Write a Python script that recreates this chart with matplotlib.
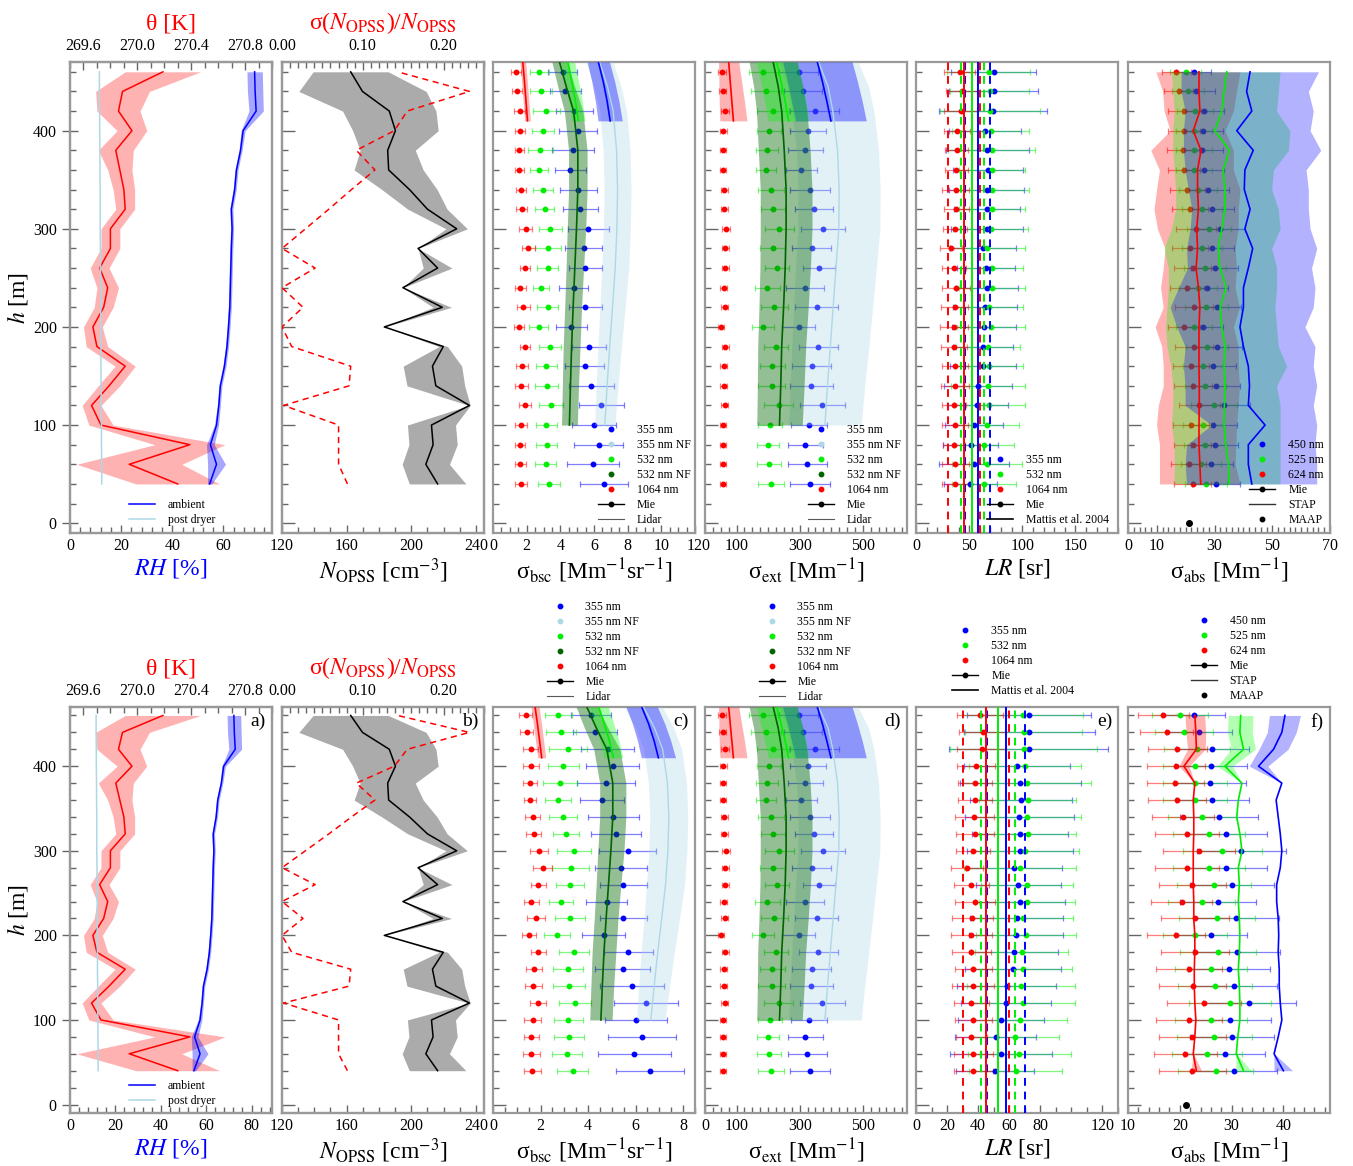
import numpy as np
import matplotlib.pyplot as plt
from matplotlib.lines import Line2D
from matplotlib.ticker import MultipleLocator, FixedLocator, FormatStrFormatter

plt.rcParams['font.family'] = ['Liberation Serif', 'DejaVu Serif']
plt.rcParams['mathtext.fontset'] = 'stix'

# ---------------- data (heights in m) ----------------
h = [40, 60, 80, 100, 120, 140, 160, 180, 200, 220, 240, 260, 280, 300, 320, 340, 360, 380, 400, 420, 440, 460]

# panel a) RH and potential temperature
rh_amb = [54.6, 57.3, 54.9, 57.3, 58.2, 58.8, 60.4, 61.4, 62.0, 62.5, 62.7, 62.9, 63.1, 63.4, 63.1, 64.4, 65.1, 66.7, 67.7, 72.8, 72.4, 72.2]
rh_err = [0.8, 3.5, 1.5, 0.8, 0.6, 0.6, 0.6, 0.6, 0.6, 0.6, 0.6, 0.6, 0.6, 0.6, 0.6, 0.6, 0.6, 0.6, 0.8, 2.8, 3.0, 3.0]
rh_dry = [12.4, 12.4, 12.3, 12.3, 12.2, 12.2, 12.1, 12.1, 12.0, 12.0, 12.0, 11.9, 11.9, 11.8, 11.8, 11.8, 11.7, 11.7, 11.6, 11.6, 11.5, 11.5]
theta = [270.30, 269.94, 270.39, 269.73, 269.66, 269.79, 269.91, 269.70, 269.67, 269.75, 269.78, 269.72, 269.80, 269.80, 269.91, 269.90, 269.87, 269.84, 269.96, 269.86, 269.89, 270.19]
theta_err = [0.31, 0.39, 0.26, 0.09, 0.07, 0.08, 0.075, 0.08, 0.07, 0.07, 0.08, 0.07, 0.07, 0.07, 0.07, 0.08, 0.09, 0.13, 0.11, 0.16, 0.20, 0.28]

# panel b) OPSS number concentration
n_opss = [216.3, 209.0, 213.5, 212.5, 236.0, 215.2, 213.1, 219.8, 183.3, 219.2, 194.8, 216.3, 204.2, 228.1, 210.0, 198.9, 186.0, 185.4, 190.2, 186.4, 169.8, 162.5]
n_rel = [0.081, 0.070, 0.070, 0.070, 0.002, 0.083, 0.085, 0.012, 0.0, 0.026, 0.0, 0.041, 0.0, 0.029, 0.058, 0.086, 0.115, 0.092, 0.139, 0.155, 0.232, 0.143]

# panel c) backscatter, lidar points
bsc355 = [6.61, 5.94, 6.27, 6.02, 6.44, 5.85, 5.46, 5.70, 4.65, 5.49, 4.79, 5.49, 5.39, 5.67, 5.18, 5.07, 4.60, 4.76, 5.04, 4.83, 4.29, 4.13]
bsc355_err = [1.42, 1.54, 1.45, 1.31, 1.35, 1.35, 1.16, 1.02, 0.91, 1.0, 0.86, 1.0, 1.11, 1.2, 1.04, 1.09, 0.93, 1.23, 1.12, 1.11, 0.91, 0.85]
bsc532 = [3.35, 3.13, 3.20, 3.17, 3.45, 3.20, 3.17, 3.41, 2.71, 3.24, 2.85, 3.24, 3.27, 3.41, 3.07, 2.96, 2.72, 2.82, 2.96, 3.17, 2.86, 2.75]
bsc532_err = [0.65, 0.63, 0.63, 0.62, 0.69, 0.69, 0.63, 0.65, 0.55, 0.63, 0.5, 0.61, 0.79, 0.7, 0.55, 0.59, 0.55, 0.73, 0.65, 0.8, 0.64, 0.56]
bsc1064 = [1.65, 1.62, 1.62, 1.67, 1.90, 1.69, 1.72, 1.90, 1.53, 1.80, 1.62, 1.90, 2.09, 1.94, 1.71, 1.67, 1.56, 1.56, 1.60, 1.59, 1.42, 1.37]
bsc1064_err = [0.35, 0.34, 0.31, 0.35, 0.35, 0.36, 0.34, 0.32, 0.29, 0.39, 0.32, 0.32, 0.39, 0.37, 0.33, 0.32, 0.27, 0.28, 0.32, 0.32, 0.28, 0.28]

# panel d) extinction, lidar points
ext355 = [332, 324, 318, 329, 372, 337, 338, 359, 297, 354, 318, 361, 338, 374, 345, 332, 305, 318, 326, 347, 311, 297]
ext355_err = [63, 62, 55, 58, 70, 68, 61, 62, 52, 68, 60, 52, 62, 71, 59, 64, 49, 55, 58, 78, 61, 62]
ext532 = [209, 203, 200, 206, 233, 211, 213, 225, 184, 220, 198, 227, 214, 235, 216, 208, 192, 197, 203, 216, 193, 184]
ext532_err = [40, 39, 35, 38, 46, 43, 40, 39, 35, 42, 39, 38, 41, 46, 39, 41, 32, 35, 38, 51, 48, 46]
ext1064 = [57, 57, 56, 57, 62, 59, 59, 64, 50, 62, 59, 64, 64, 67, 61, 61, 56, 57, 58, 63, 56, 54]
ext1064_err = [10, 11, 10, 11, 12, 11, 11, 11, 10, 12, 11, 11, 11, 12, 11, 11, 10, 10, 11, 13, 12, 12]

# Mie curves for panels c) and d)
h_nf = [100, 140, 180, 220, 260, 300, 340, 380, 420, 445, 470]
bsc_lidar = [6.64, 6.78, 6.93, 7.10, 7.26, 7.36, 7.40, 7.34, 7.14, 6.80, 6.33]
bsc_lidar_err = [0.6, 0.65, 0.7, 0.75, 0.8, 0.8, 0.8, 0.8, 0.8, 0.8, 0.8]
bsc_nf532 = [4.54, 4.60, 4.67, 4.76, 4.86, 4.96, 5.04, 5.04, 4.79, 4.35, 3.95]
bsc_nf532_err = [0.47, 0.48, 0.5, 0.5, 0.52, 0.55, 0.55, 0.55, 0.55, 0.5, 0.45]
ext_lidar = [380, 388, 397, 406, 415, 424, 425, 420, 405, 390, 360]
ext_lidar_err = [115, 118, 122, 125, 128, 130, 130, 130, 130, 128, 125]
ext_nf532 = [236, 240, 243, 249, 254, 257, 257, 251, 243, 232, 216]
ext_nf532_err = [72, 74, 76, 78, 80, 82, 82, 82, 80, 78, 76]

h_top = [410, 430, 450, 470]
bsc_mie355 = [6.96, 6.78, 6.55, 6.26]
bsc_mie355_err = [0.72, 0.7, 0.68, 0.66]
bsc_mie532 = [5.07, 4.90, 4.68, 4.45]
bsc_mie532_err = [0.4, 0.4, 0.4, 0.4]
bsc_mie1064 = [2.05, 1.96, 1.87, 1.77]
bsc_mie1064_err = [0.17, 0.17, 0.17, 0.17]
ext_mie355 = [399, 386, 372, 356]
ext_mie355_err = [112, 112, 111, 110]
ext_mie532 = [265, 254, 241, 227]
ext_mie532_err = [65, 65, 65, 65]
ext_mie1064 = [90, 85, 80, 75]
ext_mie1064_err = [43, 40, 36, 32]

# panel e) lidar ratio
lr355 = [50.9, 54.6, 51.4, 54.6, 57.8, 58.3, 62.6, 63.2, 64.3, 64.9, 66.9, 65.8, 63.2, 66.9, 67.1, 66.5, 67.5, 67.1, 64.9, 72.5, 72.9, 72.9]
lr355_err = [25, 33, 26, 27.6, 29, 32, 31, 28, 30, 30, 29, 27.5, 31, 34, 31, 35, 33, 39, 34, 51, 42, 40]
lr532 = [64.1, 66.5, 63.9, 66.9, 69.0, 67.5, 68.6, 68.0, 70.8, 69.0, 71.4, 71.4, 66.9, 70.1, 71.8, 71.4, 71.8, 71.4, 70.1, 69.2, 69.2, 68.6]
lr532_err = [30, 33, 28, 30, 33.6, 35, 32, 30, 32, 32, 31, 29.5, 36, 35, 31, 35, 31, 41, 36, 47, 37.5, 39]
lr1064 = [37.0, 37.0, 35.7, 36.8, 35.7, 36.8, 36.8, 35.7, 35.7, 36.3, 37.9, 35.7, 33.1, 36.8, 37.9, 37.4, 37.9, 38.1, 38.5, 42.2, 42.8, 41.3]
lr1064_err = [12.5, 12.5, 10, 12, 11.5, 13.4, 12, 12.5, 13, 13, 13, 11, 10.3, 11, 12, 12.5, 11, 11, 12.3, 15.5, 15, 14.6]
mattis_lr = [58, 53, 45]      # 355, 532, 1064 nm
mattis_sd = [12, 11, 15]

# panel f) absorption
abs450 = [30.5, 28.7, 30.1, 29.6, 33.4, 30.5, 29.5, 31.0, 26.0, 30.8, 27.4, 30.1, 29.0, 31.9, 29.0, 27.6, 26.3, 25.8, 26.0, 26.3, 23.7, 22.7]
abs450_err = [8.3, 7.8, 8.1, 8.0, 9.0, 8.2, 8.0, 8.4, 7.0, 8.3, 7.4, 8.1, 7.8, 8.6, 7.8, 7.5, 7.1, 7.0, 7.0, 7.1, 6.4, 6.1]
abs525 = [26.9, 25.3, 26.7, 26.0, 29.7, 26.8, 26.0, 27.4, 22.9, 27.2, 24.2, 26.6, 25.6, 28.2, 25.6, 24.3, 23.0, 22.9, 22.9, 23.3, 20.9, 20.0]
abs525_err = [7.3, 6.8, 7.2, 7.0, 8.0, 7.2, 7.0, 7.4, 6.2, 7.3, 6.5, 7.2, 6.9, 7.6, 6.9, 6.6, 6.2, 6.2, 6.2, 6.3, 5.6, 5.4]
abs624 = [22.4, 21.1, 22.4, 21.8, 24.7, 22.5, 21.8, 22.9, 19.3, 22.9, 20.4, 22.4, 21.4, 23.7, 21.4, 20.6, 19.4, 19.1, 19.3, 19.5, 17.5, 16.8]
abs624_err = [6.5, 6.1, 6.5, 6.3, 7.2, 6.5, 6.3, 6.6, 5.6, 6.6, 5.9, 6.5, 6.2, 6.9, 6.2, 6.0, 5.6, 5.5, 5.6, 5.7, 5.1, 4.9]
maap_h = [0]
maap = [21.2]

# Mie absorption, upper row (wide bands given as lower/upper limits)
mie624_a = [25.2, 24.9, 24.6, 24.6, 24.7, 24.7, 24.6, 24.6, 24.6, 24.9, 24.4, 23.6, 24.1, 23.8, 24.4, 24.1, 24.1, 25.3, 22.6, 24.9, 24.6, 24.6]
mie525_a = [35.1, 34.8, 33.9, 33.3, 33.4, 33.6, 33.3, 33.6, 32.5, 31.9, 34.0, 31.9, 31.3, 32.5, 33.6, 33.6, 33.0, 35.1, 30.1, 32.5, 33.3, 34.2]
mie450_a = [42.9, 41.7, 41.7, 47.5, 41.7, 42.1, 41.7, 40.0, 38.8, 40.0, 40.0, 41.7, 43.2, 40.5, 42.3, 40.3, 40.5, 43.4, 37.7, 42.9, 41.1, 42.3]
mie624_lo = [10.9, 10.9, 10.9, 9.9, 10.5, 12.2, 12.2, 11.7, 9.4, 12.2, 11.3, 12.2, 12.8, 10.2, 9.0, 9.9, 10.9, 7.9, 14.6, 12.5, 12.0, 9.7]
mie624_hi = [38.8, 37.1, 37.4, 37.6, 38.2, 38.6, 38.2, 38.2, 36.5, 38.6, 37.1, 37.6, 37.1, 38.2, 38.2, 38.8, 36.5, 36.5, 33.6, 36.5, 37.6, 38.8]
mie525_lo = [16.0, 16.0, 16.0, 15.0, 15.5, 15.5, 14.8, 13.5, 13.0, 13.5, 14.0, 14.0, 12.5, 15.0, 16.5, 16.5, 16.0, 15.5, 15.5, 16.0, 15.5, 15.1]
mie525_hi = [52.7, 52.7, 52.7, 52.7, 52.7, 51.5, 55.0, 52.1, 51.5, 50.9, 51.5, 51.5, 49.8, 52.7, 52.1, 49.8, 50.4, 55.6, 56.1, 51.5, 52.1, 52.7]
mie450_lo = [20.3, 19.8, 20.3, 29.0, 19.8, 19.8, 19.2, 19.8, 16.9, 14.6, 17.5, 20.6, 20.3, 21.5, 22.1, 20.9, 19.8, 19.2, 19.2, 19.8, 18.4, 18.4]
mie450_hi = [65.4, 65.4, 64.8, 65.4, 64.2, 65.4, 64.2, 64.8, 61.3, 64.2, 64.8, 63.6, 65.4, 63.1, 62.5, 62.5, 61.7, 66.8, 63.1, 64.2, 62.5, 66.0]

# Mie absorption, lower row
mie624_b = [23.2, 22.6, 22.9, 23.1, 22.9, 22.8, 22.8, 22.9, 22.9, 22.7, 22.7, 22.6, 22.6, 22.6, 22.7, 22.7, 22.6, 22.9, 20.8, 23.2, 23.1, 22.9]
mie624_b_err = [1.0, 0.05, 0, 0, 0, 0, 0, 0, 0, 0, 0, 0, 0, 0, 0, 0, 0, 0, 1.0, 1.7, 1.9, 1.9]
mie525_b = [32.3, 30.9, 31.2, 31.6, 31.6, 31.5, 31.3, 31.5, 31.6, 31.5, 31.3, 31.5, 31.3, 32.0, 31.6, 31.0, 31.3, 32.0, 28.7, 32.3, 31.6, 31.75]
mie525_b_err = [1.5, 0.05, 0, 0, 0, 0, 0, 0, 0, 0, 0, 0, 0, 0, 0, 0, 0, 0, 1.5, 2.3, 2.4, 2.4]
mie450_b = [40.0, 38.2, 39.0, 39.7, 39.4, 39.2, 39.2, 39.0, 39.1, 39.0, 38.7, 38.7, 39.4, 39.7, 39.4, 39.0, 38.6, 39.7, 35.2, 38.1, 39.7, 40.3]
mie450_b_err = [1.8, 0.05, 0, 0, 0, 0, 0, 0, 0, 0, 0, 0, 0, 0, 0, 0, 0, 0, 1.8, 2.8, 2.8, 3.0]

# ---------------- figure ----------------
W, H = 1353, 1166
fig = plt.figure(figsize=(W / 100, H / 100), dpi=100)
lefts = [70, 282, 493, 705, 916, 1128]
pw = 202
rows = [(62, 533), (707, 1113)]
GREEN = '#00ee00'
SPINE = '0.6'
TICK_FS = 11.5
LAB_FS = 17
LEG_FS = 8.5


def make_ax(i, r):
    top, bot = rows[r]
    return fig.add_axes([lefts[i] / W, 1 - bot / H, pw / W, (bot - top) / H])


def style(ax, xlim, xmaj, xminor, ylabels=False):
    ax.set_xlim(*xlim)
    ax.set_ylim(-10, 470)
    ax.xaxis.set_major_locator(FixedLocator(xmaj))
    ax.xaxis.set_minor_locator(MultipleLocator(xminor))
    ax.yaxis.set_major_locator(MultipleLocator(100))
    ax.yaxis.set_minor_locator(MultipleLocator(20))
    ax.tick_params(which='both', direction='in', color='0.4', width=1,
                   labelsize=TICK_FS, top=False, right=False, labelleft=ylabels)
    ax.tick_params(which='major', length=6)
    ax.tick_params(which='minor', length=4)
    ax.tick_params(axis='y', which='major', length=9)
    for s in ax.spines.values():
        s.set_color(SPINE)
        s.set_linewidth(1.6)


def style_top(tw, xlim, xmaj, xminor, fmt):
    tw.set_xlim(*xlim)
    tw.xaxis.set_major_locator(FixedLocator(xmaj))
    tw.xaxis.set_minor_locator(MultipleLocator(xminor))
    tw.xaxis.set_major_formatter(FormatStrFormatter(fmt))
    tw.tick_params(which='both', direction='in', color='0.4', width=1,
                   labelsize=TICK_FS, pad=6)
    tw.tick_params(which='major', length=6)
    tw.tick_params(which='minor', length=4)
    for s in tw.spines.values():
        s.set_color(SPINE)
        s.set_linewidth(1.6)


def band(ax, hh, x, err, c, a):
    x = np.asarray(x, float)
    e = np.asarray(err, float)
    ax.fill_betweenx(hh, x - e, x + e, color=c, alpha=a, lw=0, zorder=3)


def points(ax, x, err, c):
    ax.errorbar(x, h, xerr=err, fmt='none', ecolor=c, elinewidth=0.9,
                capsize=2.5, capthick=0.9, alpha=0.5, zorder=2)
    ax.plot(x, h, 'o', color=c, ms=3.2, zorder=2.1)


def dot(c):
    return Line2D([], [], ls='none', marker='o', ms=3.2, color=c)


def legend(ax, handles, labels, x, y):
    ax.legend(handles, labels, loc='lower left', bbox_to_anchor=(x, y),
              frameon=False, fontsize=LEG_FS, handlelength=2.2, handletextpad=1.1,
              labelspacing=0.25, numpoints=1, borderpad=0, borderaxespad=0)


mie_h = Line2D([], [], color='k', lw=1, marker='o', ms=3.2)

for r in range(2):
    # ----- a) RH / theta
    ax = make_ax(0, r)
    style(ax, (0, 79) if r == 0 else (0, 89), [0, 20, 40, 60, 80], 4, ylabels=True)
    ax.tick_params(axis='y', which='major', direction='inout', length=12)
    tw = ax.twiny()
    style_top(tw, (269.5, 271.0), [269.6, 270.0, 270.4, 270.8], 0.1, '%.1f')
    band(tw, h, theta, theta_err, 'red', 0.3)
    tw.plot(theta, h, color='red', lw=1.1, zorder=4)
    band(ax, h, rh_amb, rh_err, 'blue', 0.35)
    ax.plot(rh_amb, h, color='blue', lw=1.1, zorder=4)
    ax.plot(rh_dry, h, color='lightblue', lw=1.1, zorder=4)
    ax.set_zorder(tw.get_zorder() + 1)
    ax.patch.set_visible(False)
    ax.set_xlabel('$RH$ [%]', color='blue', fontsize=LAB_FS, labelpad=2)
    tw.set_xlabel('θ [K]', color='red', fontsize=LAB_FS, labelpad=6)
    ax.set_ylabel('$h$ [m]', fontsize=LAB_FS)
    ax.yaxis.set_label_coords(-0.2, 0.5)
    legend(ax, [Line2D([], [], color='blue', lw=1.1), Line2D([], [], color='lightblue', lw=1.1)],
           ['ambient', 'post dryer'], 0.29, 0.015)

    # ----- b) N_OPSS
    ax = make_ax(1, r)
    style(ax, (120, 245), [120, 160, 200, 240], 10)
    tw = ax.twiny()
    style_top(tw, (0, 0.25), [0.0, 0.1, 0.2], 0.01, '%.2f')
    n = np.asarray(n_opss)
    ne = n * np.asarray(n_rel)
    ax.fill_betweenx(h, n - ne, n + ne, color='k', alpha=0.33, lw=0, zorder=3)
    ax.plot(n_opss, h, color='k', lw=1.1, zorder=4)
    tw.plot(n_rel, h, color='red', lw=1.1, ls=(0, (4, 3)), zorder=4)
    ax.set_xlabel(r'$N_{\rm OPSS}$ [cm$^{-3}$]', fontsize=LAB_FS, labelpad=2)
    tw.set_xlabel(r'σ($N_{\rm OPSS}$)/$N_{\rm OPSS}$', color='red', fontsize=LAB_FS, labelpad=6)

    # ----- c) backscatter
    ax = make_ax(2, r)
    if r == 0:
        style(ax, (0, 12), [0, 2, 4, 6, 8, 10, 12], 0.5)
    else:
        style(ax, (0, 8.5), [0, 2, 4, 6, 8], 0.5)
    points(ax, bsc355, bsc355_err, 'blue')
    points(ax, bsc532, bsc532_err, GREEN)
    points(ax, bsc1064, bsc1064_err, 'red')
    band(ax, h_nf, bsc_lidar, bsc_lidar_err, 'lightblue', 0.35)
    ax.plot(bsc_lidar, h_nf, color='lightblue', lw=1, zorder=4)
    band(ax, h_nf, bsc_nf532, bsc_nf532_err, 'darkgreen', 0.42)
    ax.plot(bsc_nf532, h_nf, color='darkgreen', lw=1.2, zorder=4)
    band(ax, h_top, bsc_mie355, bsc_mie355_err, 'blue', 0.38)
    band(ax, h_top, bsc_mie532, bsc_mie532_err, 'lime', 0.35)
    band(ax, h_top, bsc_mie1064, bsc_mie1064_err, 'red', 0.3)
    ax.plot(bsc_mie355, h_top, color='blue', lw=1.2, zorder=4)
    ax.plot(bsc_mie532, h_top, color=GREEN, lw=1.2, zorder=4)
    ax.plot(bsc_mie1064, h_top, color='red', lw=1.2, zorder=4)
    ax.set_xlabel(r'σ$_{\rm bsc}$ [Mm$^{-1}$sr$^{-1}$]', fontsize=LAB_FS, labelpad=2)
    hnd = [dot('blue'), dot('lightblue'), dot(GREEN), dot('darkgreen'), dot('red'),
           mie_h, Line2D([], [], color='0.35', lw=0.8)]
    lab = ['355 nm', '355 nm NF', '532 nm', '532 nm NF', '1064 nm', 'Mie', 'Lidar']
    if r == 0:
        legend(ax, hnd, lab, 0.52, 0.015)
    else:
        legend(ax, hnd, lab, 0.265, 1.01)

    # ----- d) extinction
    ax = make_ax(3, r)
    style(ax, (0, 640), [0, 100, 300, 500], 25)
    points(ax, ext355, ext355_err, 'blue')
    points(ax, ext532, ext532_err, GREEN)
    points(ax, ext1064, ext1064_err, 'red')
    band(ax, h_nf, ext_lidar, ext_lidar_err, 'lightblue', 0.35)
    ax.plot(ext_lidar, h_nf, color='lightblue', lw=1, zorder=4)
    band(ax, h_nf, ext_nf532, ext_nf532_err, 'darkgreen', 0.42)
    ax.plot(ext_nf532, h_nf, color='darkgreen', lw=1.2, zorder=4)
    band(ax, h_top, ext_mie355, ext_mie355_err, 'blue', 0.38)
    band(ax, h_top, ext_mie532, ext_mie532_err, 'lime', 0.35)
    band(ax, h_top, ext_mie1064, ext_mie1064_err, 'red', 0.3)
    ax.plot(ext_mie355, h_top, color='blue', lw=1.2, zorder=4)
    ax.plot(ext_mie532, h_top, color=GREEN, lw=1.2, zorder=4)
    ax.plot(ext_mie1064, h_top, color='red', lw=1.2, zorder=4)
    ax.set_xlabel(r'σ$_{\rm ext}$ [Mm$^{-1}$]', fontsize=LAB_FS, labelpad=2)
    if r == 0:
        legend(ax, hnd, lab, 0.51, 0.015)
    else:
        legend(ax, hnd, lab, 0.265, 1.01)

    # ----- e) lidar ratio
    ax = make_ax(4, r)
    if r == 0:
        style(ax, (0, 190), [0, 50, 100, 150], 10)
    else:
        style(ax, (0, 130), [0, 20, 40, 60, 80, 120], 10)
    points(ax, lr355, lr355_err, 'blue')
    points(ax, lr532, lr532_err, GREEN)
    points(ax, lr1064, lr1064_err, 'red')
    for m, s, c in zip(mattis_lr, mattis_sd, ['blue', GREEN, 'red']):
        ax.axvline(m, color=c, lw=1.4, zorder=3)
        ax.axvline(m - s, color=c, lw=1.4, ls=(0, (4, 3)), zorder=3)
        ax.axvline(m + s, color=c, lw=1.4, ls=(0, (4, 3)), zorder=3)
    ax.set_xlabel('$LR$ [sr]', fontsize=LAB_FS, labelpad=2)
    hnd5 = [dot('blue'), dot(GREEN), dot('red'), mie_h, Line2D([], [], color='k', lw=1.2)]
    lab5 = ['355 nm', '532 nm', '1064 nm', 'Mie', 'Mattis et al. 2004']
    if r == 0:
        legend(ax, hnd5, lab5, 0.35, 0.015)
    else:
        legend(ax, hnd5, lab5, 0.18, 1.025)

    # ----- f) absorption
    ax = make_ax(5, r)
    if r == 0:
        style(ax, (0, 70), [0, 10, 30, 50, 70], 2)
        points(ax, abs450, abs450_err, 'blue')
        points(ax, abs525, abs525_err, GREEN)
        points(ax, abs624, abs624_err, 'red')
        ax.fill_betweenx(h, mie624_lo, mie624_hi, color='red', alpha=0.3, lw=0, zorder=3)
        ax.fill_betweenx(h, mie525_lo, mie525_hi, color='lime', alpha=0.3, lw=0, zorder=3)
        ax.fill_betweenx(h, mie450_lo, mie450_hi, color='blue', alpha=0.3, lw=0, zorder=3)
        ax.plot(mie624_a, h, color='red', lw=1.2, zorder=4)
        ax.plot(mie525_a, h, color=GREEN, lw=1.2, zorder=4)
        ax.plot(mie450_a, h, color='blue', lw=1.2, zorder=4)
    else:
        style(ax, (10, 49), [10, 20, 30, 40], 2)
        points(ax, abs450, abs450_err, 'blue')
        points(ax, abs525, abs525_err, GREEN)
        points(ax, abs624, abs624_err, 'red')
        band(ax, h, mie624_b, mie624_b_err, 'red', 0.3)
        band(ax, h, mie525_b, mie525_b_err, 'lime', 0.3)
        band(ax, h, mie450_b, mie450_b_err, 'blue', 0.3)
        ax.plot(mie624_b, h, color='red', lw=1.2, zorder=4)
        ax.plot(mie525_b, h, color=GREEN, lw=1.2, zorder=4)
        ax.plot(mie450_b, h, color='blue', lw=1.2, zorder=4)
    ax.plot(maap, maap_h, 'o', color='k', ms=4, zorder=5)
    ax.set_xlabel(r'σ$_{\rm abs}$ [Mm$^{-1}$]', fontsize=LAB_FS, labelpad=2)
    hnd6 = [dot('blue'), dot(GREEN), dot('red'), mie_h, Line2D([], [], color='0.2', lw=1), dot('k')]
    lab6 = ['450 nm', '525 nm', '624 nm', 'Mie', 'STAP', 'MAAP']
    if r == 0:
        legend(ax, hnd6, lab6, 0.6, 0.015)
    else:
        legend(ax, hnd6, lab6, 0.31, 1.012)

# panel letters on the lower row
for i, letter in enumerate('abcdef'):
    top, bot = rows[1]
    fig.text((lefts[i] + pw - 6) / W, 1 - (top + 6) / H, letter + ')', ha='right', va='top', fontsize=14)

fig.savefig('out.png', dpi=100)
